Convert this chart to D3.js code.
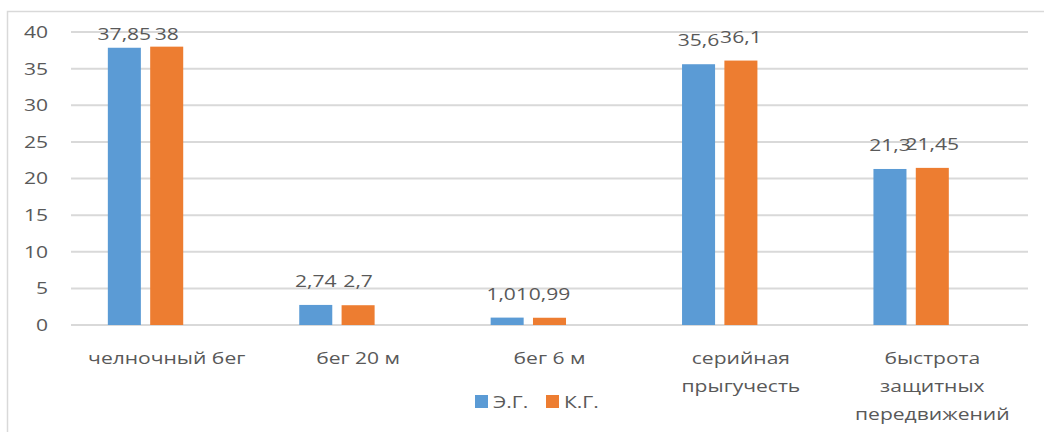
<!DOCTYPE html>
<html>
<head>
<meta charset="utf-8">
<script src="https://cdn.jsdelivr.net/npm/d3@7"></script>
<style>
  body { margin: 0; background: #fff; }
  text { font-family: "Open Sans", sans-serif; fill: #595959; font-size: 17px; }
</style>
</head>
<body>
<div class="draw-section"></div>
<script>
const categories = ['челночный бег', 'бег 20 м', 'бег 6 м', 'серийная прыгучесть', 'быстрота защитных передвижений'];
const seriesNames = ['Э.Г.', 'К.Г.'];
const valuesEG = [37.85, 2.74, 1.01, 35.6, 21.3];
const valuesKG = [38, 2.7, 0.99, 36.1, 21.45];
const yTicks = [0, 5, 10, 15, 20, 25, 30, 35, 40];
const colors = ['#5b9bd5', '#ed7d31'];

const W = 1044, H = 432;
const margin = { top: 32, right: 16, bottom: 107, left: 71 };
// the source picture is stretched sideways, so is its lettering
const sx = 1.24;
const stretch = `scale(${sx},1)`;

const svg = d3.select('.draw-section')
  .append('svg')
  .attr('width', W)
  .attr('height', H);

// outer chart frame (runs past the bottom/right of the picture)
svg.append('rect')
  .attr('x', 7.5).attr('y', 11.5)
  .attr('width', W + 20).attr('height', H + 20)
  .attr('fill', 'none')
  .attr('stroke', '#d9d9d9')
  .attr('stroke-width', 1.5);

const x0 = d3.scaleBand()
  .domain(categories)
  .range([margin.left, W - margin.right]);

// the source chart reserves a third (empty) slot in each group
const x1 = d3.scaleBand()
  .domain([...seriesNames, 'empty'])
  .range([0, x0.bandwidth()])
  .paddingInner(0.22)
  .paddingOuter(0.87);

const y = d3.scaleLinear()
  .domain([0, 40])
  .range([H - margin.bottom, margin.top]);

// gridlines
svg.append('g')
  .selectAll('line')
  .data(yTicks)
  .join('line')
  .attr('x1', margin.left)
  .attr('x2', W - margin.right)
  .attr('y1', d => y(d))
  .attr('y2', d => y(d))
  .attr('stroke', '#d9d9d9')
  .attr('stroke-width', 2);

// y axis labels
const yAxis = d3.axisLeft(y).tickValues(yTicks).tickSize(0).tickPadding(0);
const gy = svg.append('g')
  .attr('transform', `translate(${margin.left - 23},0)`)
  .call(yAxis);
gy.select('.domain').remove();
gy.attr('font-family', null).attr('font-size', null);
gy.selectAll('text')
  .attr('fill', '#595959')
  .attr('x', 0)
  .attr('transform', stretch);

const series = [valuesEG, valuesKG];
const fmt = v => String(v).replace('.', ',');

series.forEach((vals, si) => {
  const g = svg.append('g');
  g.selectAll('rect')
    .data(vals)
    .join('rect')
    .attr('x', (d, i) => x0(categories[i]) + x1(seriesNames[si]))
    .attr('width', x1.bandwidth())
    .attr('y', d => y(d))
    .attr('height', d => y(0) - y(d))
    .attr('fill', colors[si]);

  // labels sit 18px above the bar, but stay inside the plot area
  g.selectAll('text')
    .data(vals)
    .join('text')
    .attr('transform', (d, i) => {
      const cx = x0(categories[i]) + x1(seriesNames[si]) + x1.bandwidth() / 2;
      const cy = Math.max(y(d) - 18, margin.top + 8);
      return `translate(${cx},${cy}) ${stretch}`;
    })
    .attr('text-anchor', 'middle')
    .text(d => fmt(d));
});

// category labels (wrapped to the band width)
const xAxis = d3.axisBottom(x0).tickSize(0).tickPadding(0);
const gx = svg.append('g')
  .attr('transform', `translate(0,${y(0)})`)
  .call(xAxis);
gx.select('.domain').remove();
gx.attr('font-family', null).attr('font-size', null);
gx.selectAll('text')
  .attr('fill', '#595959')
  .attr('y', 39)
  .attr('dy', 0)
  .attr('transform', stretch)
  .call(wrap, (x0.bandwidth() - 6) / sx);

function wrap(texts, width) {
  texts.each(function() {
    const text = d3.select(this);
    const words = text.text().split(/\s+/);
    const yy = text.attr('y');
    text.text(null);
    let line = [];
    let lineNo = 0;
    let tspan = text.append('tspan').attr('x', 0).attr('y', yy).attr('dy', 0);
    words.forEach(w => {
      line.push(w);
      tspan.text(line.join(' '));
      if (tspan.node().getComputedTextLength() > width && line.length > 1) {
        line.pop();
        tspan.text(line.join(' '));
        line = [w];
        lineNo++;
        tspan = text.append('tspan').attr('x', 0).attr('y', yy)
          .attr('dy', lineNo * 28).text(w);
      }
    });
  });
}

// legend
const legend = svg.append('g')
  .attr('transform', `translate(475,395)`);
const items = legend.selectAll('g')
  .data(seriesNames)
  .join('g')
  .attr('transform', (d, i) => `translate(${i * 71},0)`);
items.append('rect')
  .attr('width', 13).attr('height', 13)
  .attr('fill', (d, i) => colors[i]);
items.append('text')
  .attr('transform', `translate(18,13) ${stretch}`)
  .text(d => d);
</script>
</body>
</html>
